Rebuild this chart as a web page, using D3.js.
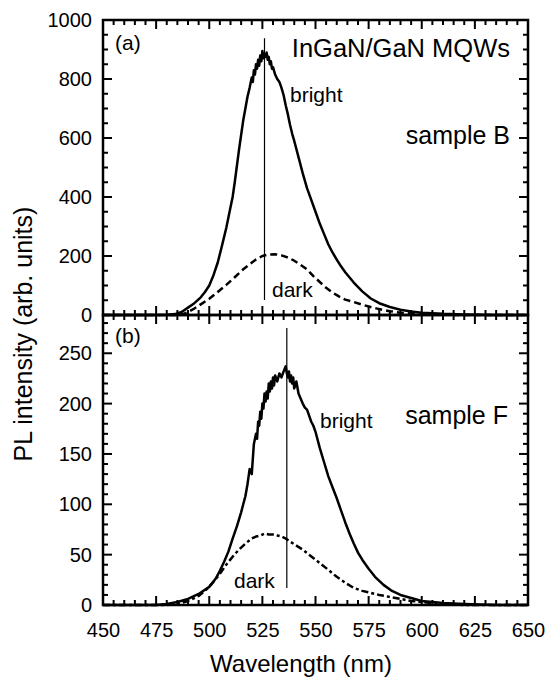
<!DOCTYPE html>
<html>
<head>
<meta charset="utf-8">
<script src="https://cdn.jsdelivr.net/npm/d3@7"></script>
</head>
<body>
<div id="chart"></div>
<script>
// sample B (top panel)
const bBrightWl = [450,470,480,484,487,490,493,496,498,500,502,504,506,508,510,511,512,513,514,515,516,517,518,519,520,520.5,521,521.5,522,522.5,523,523.5,524,524.5,525,525.5,526,526.5,527,527.5,528,528.5,529,529.5,530,531,532,533,534,535,536,537,538,539,540,542,544,546,548,550,552,554,556,558,560,562,564,568,572,576,580,585,590,595,600,610,620,635,650];
const bBrightPL = [0,0,1,3,10,25,40,60,78,100,135,178,235,295,365,400,450,505,560,610,660,700,740,770,805,790,830,815,850,835,865,845,880,860,895,870,885,875,890,865,875,850,860,835,840,815,800,790,770,745,710,680,645,615,590,535,480,430,390,350,310,275,240,212,188,165,145,110,80,56,40,27,18,12,8,4,2,0,0];
const bDarkWl = [450,486,488,490,493,496,500,504,508,512,516,519,522,525,528,531,534,537,540,543,546,549,552,555,558,561,564,568,572,576,580,585,590,595,600,610,620,650];
const bDarkPL = [0,0,4,10,22,36,55,78,102,128,155,172,188,200,205,206,202,195,184,170,155,132,112,92,76,63,52,44,35,27,20,13,8,5,3,1,0,0];

// sample F (bottom panel)
const fBrightWl = [450,475,480,485,490,495,500,503,505,507,509,511,513,515,516,517,518,519,520,521,522,522.5,523,523.5,524,524.5,525,525.5,526,526.5,527,527.5,528,528.5,529,529.5,530,530.5,531,532,533,534,535,536,536.5,537,537.5,538,538.5,539,539.5,540,541,542,543,544,545,546,547,548,549,550,552,554,556,558,560,562,564,566,568,570,572,575,578,582,586,590,595,600,610,620,635,650];
const fBrightPL = [0,0,1,3,6,11,18,26,34,43,53,66,78,92,100,108,120,135,130,160,170,165,182,178,192,185,200,195,210,202,212,205,220,212,222,215,226,218,228,222,230,226,232,237,230,226,232,222,228,220,226,215,222,210,205,200,196,194,188,182,178,172,156,142,128,117,106,94,82,71,61,52,45,36,28,20,14,10,7,4,2,1,0,0];
const fDarkWl = [450,480,485,490,495,499,502,505,508,511,514,517,520,522,524,526,528,530,532,534,536,538,541,544,547,550,553,556,560,564,568,572,576,580,585,590,595,600,610,620,650];
const fDarkPL = [0,0,1,4,9,16,23,31,40,48,55,61,66,68,69,71,70,70,69,68,66,63,59,55,50,45,40,35,28,22,17,14,12,10,8,6,4,3,1,0,0];

// peak markers: wavelength, [from, to] intensity
const bPeak = 526, bPeakRange = [51, 938];
const fPeak = 536.5, fPeakRange = [17, 275];

const xTicks = [450,475,500,525,550,575,600,625,650];
const bTicks = [0,200,400,600,800,1000];
const fTicks = [0,50,100,150,200,250];

const w = 548, h = 685;
const pLeft = 103, pRight = 528, pTop = 20, pMid = 315, pBottom = 605;
const FONT = "'Liberation Sans', Arial, sans-serif";

d3.select("body").style("margin", "0px");

const svg = d3.select("#chart").append("svg")
    .attr("width", w)
    .attr("height", h)
    .style("display", "block");

const x = d3.scaleLinear().domain([450, 650]).range([pLeft, pRight]);
const yB = d3.scaleLinear().domain([0, 1000]).range([pMid, pTop]);
const yF = d3.scaleLinear().domain([0, 288]).range([pBottom, pMid]);

const xMinor = d3.range(455, 650, 5);

// inward tick marks on all four sides of a panel
function tickMarks(y, yMajor, yMinor, y0, y1) {
  const yv = yMinor.filter(v => y(v) > y1 + 1 && y(v) < y0 - 1);
  const g = svg.append("g");
  g.selectAll("line.yl").data(yv).join("line").attr("class", "yl")
   .attr("x1", pLeft).attr("x2", d => pLeft + (yMajor.includes(d) ? 9 : 5))
   .attr("y1", d => y(d)).attr("y2", d => y(d))
   .attr("stroke", "black").attr("stroke-width", 2);
  g.selectAll("line.yr").data(yv).join("line").attr("class", "yr")
   .attr("x1", pRight).attr("x2", d => pRight - (yMajor.includes(d) ? 9 : 5))
   .attr("y1", d => y(d)).attr("y2", d => y(d))
   .attr("stroke", "black").attr("stroke-width", 2);
  g.selectAll("line.xb").data(xMinor).join("line").attr("class", "xb")
   .attr("x1", d => x(d)).attr("x2", d => x(d))
   .attr("y1", y0).attr("y2", d => y0 - (xTicks.includes(d) ? 9 : 5))
   .attr("stroke", "black").attr("stroke-width", 2);
  g.selectAll("line.xt").data(xMinor).join("line").attr("class", "xt")
   .attr("x1", d => x(d)).attr("x2", d => x(d))
   .attr("y1", y1).attr("y2", d => y1 + (xTicks.includes(d) ? 9 : 5))
   .attr("stroke", "black").attr("stroke-width", 2);
  svg.append("rect")
     .attr("x", pLeft).attr("y", y1)
     .attr("width", pRight - pLeft).attr("height", y0 - y1)
     .attr("fill", "none").attr("stroke", "black").attr("stroke-width", 2.5);
}

tickMarks(yB, bTicks, d3.range(0, 1001, 50), pMid, pTop);
tickMarks(yF, fTicks, d3.range(0, 281, 10), pBottom, pMid);

function curve(wl, pl, y, dash) {
  const line = d3.line().x((d, i) => x(wl[i])).y(d => y(d));
  svg.append("path")
     .datum(pl)
     .attr("d", line)
     .attr("fill", "none")
     .attr("stroke", "black")
     .attr("stroke-width", 2.5)
     .attr("stroke-linejoin", "round")
     .attr("stroke-dasharray", dash);
}

curve(bBrightWl, bBrightPL, yB, null);
curve(bDarkWl, bDarkPL, yB, "7,4");
curve(fBrightWl, fBrightPL, yF, null);
curve(fDarkWl, fDarkPL, yF, "7,3,3,3");

svg.append("line")
   .attr("x1", x(bPeak)).attr("x2", x(bPeak))
   .attr("y1", yB(bPeakRange[0])).attr("y2", yB(bPeakRange[1]))
   .attr("stroke", "black").attr("stroke-width", 1.2);
svg.append("line")
   .attr("x1", x(fPeak)).attr("x2", x(fPeak))
   .attr("y1", yF(fPeakRange[0])).attr("y2", yF(fPeakRange[1]))
   .attr("stroke", "black").attr("stroke-width", 1.2);

// tick labels from the axes
function noLines(g) {
  g.select(".domain").remove();
  g.selectAll(".tick line").remove();
  g.attr("font-family", FONT).attr("font-size", 20);
  g.selectAll("text").attr("fill", "black");
}
svg.append("g").attr("transform", `translate(${pLeft},0)`)
   .call(d3.axisLeft(yB).tickValues(bTicks).tickSize(0).tickPadding(11).tickFormat(d3.format("d")))
   .call(noLines);
svg.append("g").attr("transform", `translate(${pLeft},0)`)
   .call(d3.axisLeft(yF).tickValues(fTicks).tickSize(0).tickPadding(11).tickFormat(d3.format("d")))
   .call(noLines);
svg.append("g").attr("transform", `translate(0,${pBottom})`)
   .call(d3.axisBottom(x).tickValues(xTicks).tickSize(0).tickPadding(18).tickFormat(d3.format("d")))
   .call(noLines);

const label = (tx, ty, s, size, anchor) =>
  svg.append("text").attr("x", tx).attr("y", ty)
     .attr("text-anchor", anchor || "start")
     .attr("font-family", FONT)
     .attr("font-size", size)
     .attr("fill", "black")
     .text(s);

label(115, 50, "(a)", 21);
label(510, 57, "InGaN/GaN MQWs", 25.5, "end");
label(290, 102, "bright", 21);
label(510, 144, "sample B", 25, "end");
label(272, 297, "dark", 21);

label(115, 343, "(b)", 21);
label(320, 428, "bright", 21);
label(508, 424, "sample F", 25, "end");
label(234, 588, "dark", 21);

label(301, 672, "Wavelength (nm)", 24, "middle");
svg.append("text")
   .attr("transform", "translate(32,334) rotate(-90)")
   .attr("text-anchor", "middle")
   .attr("font-family", FONT)
   .attr("font-size", 25)
   .attr("fill", "black")
   .text("PL intensity (arb. units)");
</script>
</body>
</html>
